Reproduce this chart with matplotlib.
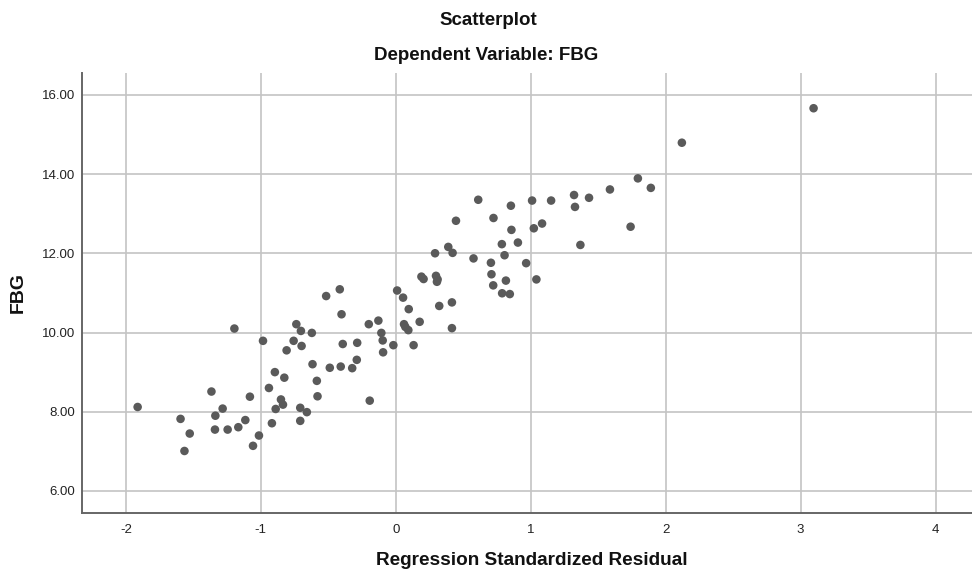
import matplotlib
matplotlib.use("Agg")
import matplotlib.pyplot as plt

# data
resid = [-1.196, -1.913, -0.984, -0.737, -0.703, -0.622, -0.757, -0.698, -0.809, -0.617,
         -0.585, -0.580, -0.896, -0.826, -0.940, -0.851, -0.836, -0.890, -0.708, -0.659,
         -0.708, -0.918, -1.014, -1.058, -1.081, -1.366, -1.283, -1.337, -1.595, -1.527,
         -1.566, -1.340, -1.246, -1.167, -1.115, 0.190, 0.206, 0.298, 0.310, 0.305,
         0.322, 0.010, 0.054, 0.096, 0.177, 0.061, 0.071, 0.093, 0.132, -0.018,
         -0.200, -0.129, -0.107, -0.097, -0.094, -0.193, -0.415, -0.516, -0.402, -0.393,
         -0.286, -0.289, -0.323, -0.408, -0.489, 0.611, 0.446, 0.853, 1.010, 1.151,
         1.321, 1.328, 0.724, 0.857, 1.084, 1.023, 0.786, 0.905, 0.806, 0.705,
         0.966, 0.576, 0.709, 0.722, 0.816, 0.788, 0.845, 1.042, 0.291, 0.389,
         0.421, 0.416, 0.416, 2.120, 1.794, 1.890, 1.587, 1.432, 1.740, 1.368,
         3.096]
fbg = [10.10, 8.12, 9.79, 10.21, 10.04, 9.99, 9.79, 9.66, 9.55, 9.20,
       8.78, 8.39, 9.00, 8.86, 8.60, 8.31, 8.18, 8.07, 8.10, 7.99,
       7.77, 7.71, 7.40, 7.14, 8.38, 8.51, 8.08, 7.90, 7.82, 7.45,
       7.01, 7.55, 7.55, 7.61, 7.79, 11.41, 11.35, 11.43, 11.34, 11.28,
       10.67, 11.06, 10.88, 10.59, 10.27, 10.21, 10.14, 10.06, 9.68, 9.68,
       10.21, 10.30, 9.99, 9.80, 9.50, 8.28, 11.09, 10.92, 10.46, 9.71,
       9.74, 9.31, 9.10, 9.14, 9.11, 13.35, 12.82, 13.20, 13.33, 13.33,
       13.47, 13.17, 12.89, 12.59, 12.75, 12.63, 12.23, 12.27, 11.95, 11.76,
       11.75, 11.87, 11.47, 11.19, 11.31, 10.99, 10.97, 11.34, 12.00, 12.16,
       12.01, 10.76, 10.11, 14.79, 13.89, 13.65, 13.61, 13.40, 12.67, 12.21,
       15.66]

x_ticks = [-2, -1, 0, 1, 2, 3, 4]
y_ticks = [6, 8, 10, 12, 14, 16]

plt.rcParams['font.family'] = ['Liberation Sans', 'DejaVu Sans']

fig = plt.figure(figsize=(9.72, 5.71), dpi=100)
ax = fig.add_axes([0.0844, 0.1016, 0.9156, 0.7706])

ax.scatter(resid, fbg, s=38, color='#5a5a5a', edgecolors='none', zorder=3)

ax.set_xlim(-2.325, 4.27)
ax.set_ylim(5.445, 16.55)
ax.set_xticks(x_ticks)
ax.set_xticklabels([str(t) for t in x_ticks])
ax.set_yticks(y_ticks)
ax.set_yticklabels(['%.2f' % t for t in y_ticks])

ax.grid(True, color='#c4c4c4', linewidth=1.2)
ax.set_axisbelow(True)
ax.tick_params(length=0, labelsize=9.5, colors='#222222')
ax.tick_params(axis='x', pad=8)
ax.tick_params(axis='y', pad=5)

for side in ['top', 'right']:
    ax.spines[side].set_visible(False)
for side in ['left', 'bottom']:
    ax.spines[side].set_color('#666666')
    ax.spines[side].set_linewidth(1.4)

# chart titles centred on the figure, axis title centred on the axis
fig.text(0.502, 0.964, 'Scatterplot', ha='center', va='center',
         fontsize=13.5, fontweight='bold', color='#111111')
fig.text(0.500, 0.903, 'Dependent Variable: FBG', ha='center', va='center',
         fontsize=13.5, fontweight='bold', color='#111111')
fig.text(0.547, 0.018, 'Regression Standardized Residual', ha='center', va='center',
         fontsize=13.7, fontweight='bold', color='#111111')
fig.text(0.019, 0.487, 'FBG', ha='center', va='center', rotation=90,
         fontsize=14, fontweight='bold', color='#111111')

fig.savefig('out.png', dpi=100)
